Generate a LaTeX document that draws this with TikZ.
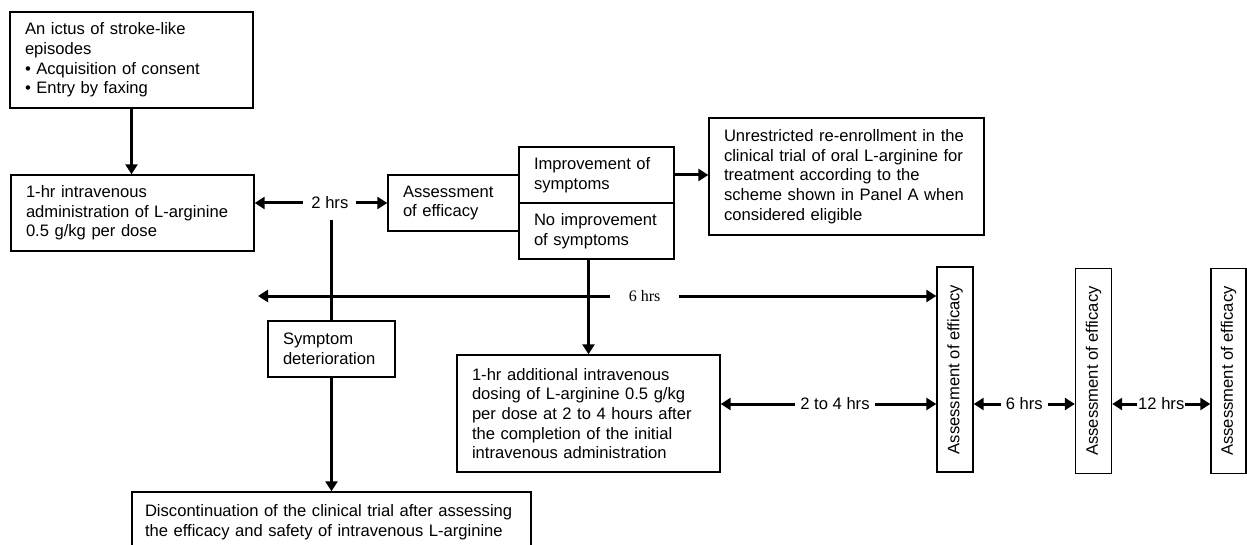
\documentclass[tikz,border=0pt]{standalone}
\usepackage{fontspec}
\setmainfont{Liberation Sans}
\newfontfamily\serifhrs{Liberation Serif}
\usetikzlibrary{arrows.meta}
\tikzset{
  box/.style={draw, line width=1.4pt, inner xsep=15pt, inner ysep=0pt, align=left},
  vbox/.style={draw, line width=1.4pt, rotate=90, inner sep=0pt, minimum width=205pt, minimum height=36pt},
  arr/.style={line width=3pt, -{Triangle[length=10pt,width=12pt]}},
  darr/.style={line width=3pt, {Triangle[length=10pt,width=12pt]}-{Triangle[length=10pt,width=12pt]}},
  lbl/.style={fill=white, inner ysep=2pt},
  plain/.style={line width=3pt}
}
\begin{document}
\begin{tikzpicture}[x=1pt,y=-1pt, font=\fontsize{16.6}{19.7}\selectfont]
\useasboundingbox (0,0) rectangle (1247,545);
\clip (0,0) rectangle (1247,545);

\node[box, minimum width=243pt, minimum height=96pt, text width=213pt] (b1) at (131.5,60)
  {An ictus of stroke-like\\episodes\\• Acquisition of consent\\• Entry by faxing};
\node[box, minimum width=243pt, minimum height=76pt, text width=213pt] (b2) at (132.5,213)
  {1-hr intravenous\\administration of L-arginine\\0.5 g/kg per dose};
\node[box, minimum width=131pt, minimum height=56pt, text width=101pt] (as) at (453.5,203)
  {Assessment\\of efficacy};
\node[box, minimum width=155pt, minimum height=56pt, text width=125pt] (impr) at (596.5,175)
  {Improvement of\\symptoms};
\node[box, minimum width=155pt, minimum height=56pt, text width=125pt] (noimpr) at (596.5,231)
  {No improvement\\of symptoms};
\node[box, minimum width=275pt, minimum height=117pt, text width=245pt] (unres) at (846.5,176.5)
  {Unrestricted re-enrollment in the\\clinical trial of oral L-arginine for\\treatment according to the\\scheme shown in Panel A when\\considered eligible};
\node[box, minimum width=127pt, minimum height=56pt, text width=97pt] (sym) at (331.5,349)
  {Symptom\\deterioration};
\node[box, minimum width=263pt, minimum height=117pt, text width=233pt] (add) at (588.5,413.5)
  {1-hr additional intravenous\\dosing of L-arginine 0.5 g/kg\\per dose at 2 to 4 hours after\\the completion of the initial\\intravenous administration};
\node[box, inner xsep=13pt, minimum width=399pt, minimum height=60pt, text width=373pt] (disc) at (331.5,522)
  {Discontinuation of the clinical trial after assessing\\the efficacy and safety of intravenous L-arginine};
\node[vbox] (v1) at (955,369.5) {Assessment of efficacy};
\node[vbox] (v2) at (1093.5,371) {Assessment of efficacy};
\node[vbox, minimum height=35pt] (v3) at (1228.5,371) {Assessment of efficacy};

\coordinate (l6) at (258,296);
\coordinate (y24) at (0,404);

\draw[arr] (b1.south) -- (b1.south |- b2.north);
\draw[darr] (b2.east |- as.west) -- (as.west)
  node[lbl, inner xsep=8pt, pos=0.567] (t2) {2 hrs};
\draw[plain] ([yshift=-7pt]t2.south -| sym.north) -- (sym.north);
\draw[arr] (sym.south) -- (sym.south |- disc.north);
\draw[arr] (impr.east) -- (impr.east -| unres.west);
\draw[arr] (add.north |- noimpr.south) -- (add.north);
\draw[darr] (l6) -- (l6 -| v1.north)
  node[lbl, inner xsep=19pt, pos=0.57, font=\serifhrs\fontsize{16}{19}\selectfont] (t6) {6 hrs};
\draw[darr] (add.east |- y24) -- (v1.north |- y24)
  node[lbl, inner xsep=5pt, pos=0.53] (t24) {2 to 4 hrs};
\draw[darr] (v1.south |- y24) -- (v2.north |- y24)
  node[lbl, inner xsep=5pt, midway] (t6b) {6 hrs};
\draw[darr] (v2.south |- y24) -- (v3.north |- y24)
  node[lbl, inner xsep=1pt, midway] (t12) {12 hrs};
\end{tikzpicture}
\end{document}
